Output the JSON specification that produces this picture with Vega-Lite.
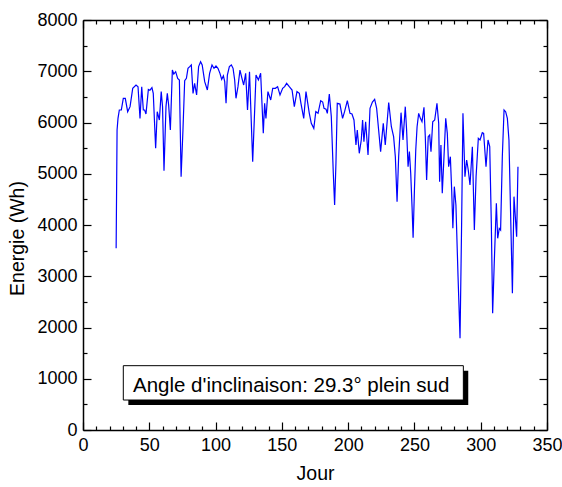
{
  "$schema": "https://vega.github.io/schema/vega-lite/v6.json",
  "width": 464,
  "height": 410,
  "autosize": {"type": "none"},
  "padding": {"left": 83, "top": 20, "right": 15, "bottom": 57},
  "background": "white",
  "config": {
    "view": {"stroke": null},
    "font": "Liberation Sans",
    "axis": {
      "grid": false,
      "domainColor": "black",
      "domainWidth": 1.5,
      "tickColor": "black",
      "tickWidth": 1.2,
      "labelFont": "Liberation Sans",
      "labelFontSize": 18,
      "labelColor": "black",
      "titleFont": "Liberation Sans",
      "titleFontSize": 19.5,
      "titleFontWeight": "normal",
      "titleColor": "black"
    }
  },
  "datasets": {
    "serie": [
    {"jour": 25.0, "energie": 3545}, {"jour": 25.7, "energie": 5854}, {"jour": 26.4, "energie": 6081},
    {"jour": 27.4, "energie": 6244}, {"jour": 28.9, "energie": 6244}, {"jour": 30.4, "energie": 6472},
    {"jour": 31.9, "energie": 6472}, {"jour": 33.7, "energie": 6211}, {"jour": 35.5, "energie": 6309},
    {"jour": 37.5, "energie": 6667}, {"jour": 40.0, "energie": 6732}, {"jour": 41.5, "energie": 6699},
    {"jour": 43.0, "energie": 6081}, {"jour": 44.3, "energie": 6699}, {"jour": 45.5, "energie": 6244},
    {"jour": 46.5, "energie": 6244}, {"jour": 47.5, "energie": 6166}, {"jour": 49.3, "energie": 6647},
    {"jour": 50.5, "energie": 6630}, {"jour": 52.0, "energie": 6680}, {"jour": 53.0, "energie": 6569},
    {"jour": 54.8, "energie": 5496}, {"jour": 56.0, "energie": 6211}, {"jour": 57.6, "energie": 6049},
    {"jour": 59.0, "energie": 6602}, {"jour": 60.0, "energie": 6309}, {"jour": 61.1, "energie": 5060},
    {"jour": 62.6, "energie": 6309}, {"jour": 63.6, "energie": 6569}, {"jour": 64.6, "energie": 6341},
    {"jour": 65.9, "energie": 5854}, {"jour": 67.4, "energie": 7024}, {"jour": 68.5, "energie": 6946},
    {"jour": 69.9, "energie": 6992}, {"jour": 71.4, "energie": 6862}, {"jour": 72.7, "energie": 6830},
    {"jour": 74.0, "energie": 4943}, {"jour": 75.4, "energie": 5854}, {"jour": 76.7, "energie": 6816},
    {"jour": 78.0, "energie": 6862}, {"jour": 79.2, "energie": 7057}, {"jour": 80.5, "energie": 7090},
    {"jour": 81.7, "energie": 7122}, {"jour": 83.0, "energie": 6569}, {"jour": 84.2, "energie": 6764},
    {"jour": 85.7, "energie": 6537}, {"jour": 87.2, "energie": 7090}, {"jour": 88.7, "energie": 7187},
    {"jour": 89.9, "energie": 7122}, {"jour": 91.8, "energie": 6797}, {"jour": 93.8, "energie": 6634},
    {"jour": 95.5, "energie": 6959}, {"jour": 97.3, "energie": 7122}, {"jour": 98.8, "energie": 7057},
    {"jour": 100.3, "energie": 7102}, {"jour": 101.8, "energie": 7057}, {"jour": 103.3, "energie": 6959},
    {"jour": 104.6, "energie": 6843}, {"jour": 105.9, "energie": 6910}, {"jour": 106.9, "energie": 6797},
    {"jour": 107.9, "energie": 6374}, {"jour": 108.9, "energie": 6927}, {"jour": 110.4, "energie": 7090},
    {"jour": 111.9, "energie": 7122}, {"jour": 113.2, "energie": 7057}, {"jour": 114.4, "energie": 6829},
    {"jour": 115.4, "energie": 6472}, {"jour": 116.9, "energie": 6699}, {"jour": 118.4, "energie": 7024},
    {"jour": 119.9, "energie": 6862}, {"jour": 121.2, "energie": 6732}, {"jour": 122.7, "energie": 6960},
    {"jour": 124.1, "energie": 6244}, {"jour": 125.6, "energie": 6992}, {"jour": 128.0, "energie": 5236},
    {"jour": 130.5, "energie": 6927}, {"jour": 132.3, "energie": 6829}, {"jour": 134.0, "energie": 6960},
    {"jour": 136.0, "energie": 5789}, {"jour": 137.0, "energie": 6374}, {"jour": 138.0, "energie": 6081},
    {"jour": 139.5, "energie": 6602}, {"jour": 141.6, "energie": 6439}, {"jour": 143.1, "energie": 6667},
    {"jour": 145.1, "energie": 6667}, {"jour": 146.8, "energie": 6699}, {"jour": 148.6, "energie": 6537},
    {"jour": 150.6, "energie": 6667}, {"jour": 152.1, "energie": 6699}, {"jour": 153.6, "energie": 6764},
    {"jour": 155.6, "energie": 6699}, {"jour": 157.7, "energie": 6634}, {"jour": 159.4, "energie": 6309},
    {"jour": 161.4, "energie": 6602}, {"jour": 163.2, "energie": 6569}, {"jour": 164.4, "energie": 6374},
    {"jour": 166.5, "energie": 6081}, {"jour": 168.2, "energie": 6602}, {"jour": 170.7, "energie": 6179},
    {"jour": 172.2, "energie": 5984}, {"jour": 174.1, "energie": 5886}, {"jour": 175.6, "energie": 6211},
    {"jour": 177.3, "energie": 6179}, {"jour": 179.3, "energie": 6426}, {"jour": 180.8, "energie": 6400},
    {"jour": 181.8, "energie": 6276}, {"jour": 183.3, "energie": 6260}, {"jour": 184.3, "energie": 6179},
    {"jour": 185.8, "energie": 6556}, {"jour": 187.3, "energie": 6114}, {"jour": 188.8, "energie": 5008},
    {"jour": 189.8, "energie": 4390}, {"jour": 190.8, "energie": 5203}, {"jour": 191.8, "energie": 6374},
    {"jour": 193.8, "energie": 6360}, {"jour": 195.8, "energie": 6081}, {"jour": 197.3, "energie": 6211},
    {"jour": 199.4, "energie": 6426}, {"jour": 201.4, "energie": 6179}, {"jour": 202.9, "energie": 6165},
    {"jour": 204.4, "energie": 6049}, {"jour": 205.9, "energie": 5561}, {"jour": 206.9, "energie": 5854},
    {"jour": 208.4, "energie": 5399}, {"jour": 209.9, "energie": 5659}, {"jour": 210.9, "energie": 6049},
    {"jour": 211.9, "energie": 5626}, {"jour": 213.2, "energie": 6016}, {"jour": 215.0, "energie": 5366},
    {"jour": 216.5, "energie": 6276}, {"jour": 218.3, "energie": 6400}, {"jour": 220.0, "energie": 6452},
    {"jour": 221.5, "energie": 6276}, {"jour": 223.0, "energie": 5854}, {"jour": 224.5, "energie": 5431},
    {"jour": 226.5, "energie": 5984}, {"jour": 228.0, "energie": 5561}, {"jour": 230.6, "energie": 6390},
    {"jour": 232.6, "energie": 5918}, {"jour": 234.3, "energie": 5724}, {"jour": 235.6, "energie": 5333},
    {"jour": 236.9, "energie": 4455}, {"jour": 238.1, "energie": 5333}, {"jour": 239.9, "energie": 6192},
    {"jour": 241.4, "energie": 5659}, {"jour": 243.1, "energie": 6309}, {"jour": 244.1, "energie": 5854},
    {"jour": 245.2, "energie": 5138}, {"jour": 246.2, "energie": 5431}, {"jour": 247.2, "energie": 5008},
    {"jour": 248.2, "energie": 4358}, {"jour": 249.0, "energie": 3753}, {"jour": 250.0, "energie": 4683},
    {"jour": 251.0, "energie": 5463}, {"jour": 252.0, "energie": 5918}, {"jour": 253.2, "energie": 6179},
    {"jour": 254.5, "energie": 6081}, {"jour": 255.7, "energie": 6016}, {"jour": 257.2, "energie": 6296},
    {"jour": 258.2, "energie": 5724}, {"jour": 259.2, "energie": 4878}, {"jour": 260.4, "energie": 5724},
    {"jour": 261.5, "energie": 5756}, {"jour": 262.5, "energie": 5431}, {"jour": 263.8, "energie": 6016},
    {"jour": 265.3, "energie": 6049}, {"jour": 267.0, "energie": 6374}, {"jour": 268.3, "energie": 5984},
    {"jour": 269.0, "energie": 4845}, {"jour": 270.0, "energie": 5561}, {"jour": 271.0, "energie": 4618},
    {"jour": 272.3, "energie": 5333}, {"jour": 273.6, "energie": 6081}, {"jour": 274.8, "energie": 5789},
    {"jour": 275.8, "energie": 5138}, {"jour": 277.1, "energie": 5333}, {"jour": 278.1, "energie": 4683},
    {"jour": 279.0, "energie": 3935}, {"jour": 280.1, "energie": 4748}, {"jour": 281.3, "energie": 4390},
    {"jour": 282.9, "energie": 2992}, {"jour": 284.4, "energie": 1789}, {"jour": 285.6, "energie": 4033},
    {"jour": 286.6, "energie": 6179}, {"jour": 288.1, "energie": 4943}, {"jour": 289.4, "energie": 5268},
    {"jour": 290.6, "energie": 5073}, {"jour": 291.9, "energie": 4780}, {"jour": 293.7, "energie": 5528},
    {"jour": 295.2, "energie": 3902}, {"jour": 296.5, "energie": 4943}, {"jour": 298.2, "energie": 5691},
    {"jour": 299.5, "energie": 5659}, {"jour": 301.2, "energie": 5801}, {"jour": 302.2, "energie": 5789},
    {"jour": 304.0, "energie": 5138}, {"jour": 305.5, "energie": 5659}, {"jour": 306.8, "energie": 5528},
    {"jour": 308.0, "energie": 4033}, {"jour": 309.0, "energie": 2277}, {"jour": 310.2, "energie": 3252},
    {"jour": 311.8, "energie": 4423}, {"jour": 312.8, "energie": 3740}, {"jour": 314.0, "energie": 3935},
    {"jour": 315.0, "energie": 3902}, {"jour": 316.3, "energie": 5333}, {"jour": 317.6, "energie": 6244},
    {"jour": 318.8, "energie": 6211}, {"jour": 320.1, "energie": 6081}, {"jour": 321.3, "energie": 5659},
    {"jour": 322.6, "energie": 4163}, {"jour": 323.9, "energie": 2667}, {"jour": 325.1, "energie": 4553},
    {"jour": 326.1, "energie": 4163}, {"jour": 327.1, "energie": 3772}, {"jour": 328.1, "energie": 5138}
    ],
    "note": [{"texte": "Angle d'inclinaison: 29.3° plein sud"}]
  },
  "resolve": {"axis": {"x": "independent", "y": "independent"}},
  "layer": [
    {
      "data": {"name": "serie"},
      "mark": {"type": "line", "color": "#0000FF", "strokeWidth": 1.2},
      "encoding": {
        "x": {"field": "jour", "type": "quantitative",
              "scale": {"domain": [0, 350], "nice": false, "zero": false},
              "axis": {"orient": "bottom", "title": "Jour", "values": [0, 50, 100, 150, 200, 250, 300, 350],
                       "tickSize": -8, "labelPadding": 14, "format": "d", "labelFlush": false, "titlePadding": 10}},
        "y": {"field": "energie", "type": "quantitative",
              "scale": {"domain": [0, 8000], "nice": false, "zero": false},
              "axis": {"orient": "left", "title": "Energie (Wh)", "values": [0, 1000, 2000, 3000, 4000, 5000, 6000, 7000, 8000],
                       "tickSize": -8, "labelPadding": 14, "format": "d", "labelFlush": false, "titlePadding": 9, "titleY": 218}}
      }
    },
    {
      "data": {"name": "serie"},
      "mark": {"type": "line", "strokeOpacity": 0},
      "encoding": {
        "x": {"field": "jour", "type": "quantitative",
              "axis": {"orient": "bottom", "title": null, "labels": false, "domain": false,
                       "values": [10, 20, 30, 40, 60, 70, 80, 90, 110, 120, 130, 140, 160, 170, 180, 190, 210, 220, 230, 240, 260, 270, 280, 290, 310, 320, 330, 340],
                       "tickSize": -4}},
        "y": {"field": "energie", "type": "quantitative",
              "axis": {"orient": "left", "title": null, "labels": false, "domain": false,
                       "values": [500, 1500, 2500, 3500, 4500, 5500, 6500, 7500], "tickSize": -4}}
      }
    },
    {
      "data": {"name": "serie"},
      "mark": {"type": "line", "strokeOpacity": 0},
      "encoding": {
        "x": {"field": "jour", "type": "quantitative",
              "axis": {"orient": "top", "title": null, "labels": false,
                       "values": [0, 50, 100, 150, 200, 250, 300, 350], "tickSize": -8}},
        "y": {"field": "energie", "type": "quantitative",
              "axis": {"orient": "right", "title": null, "labels": false,
                       "values": [0, 1000, 2000, 3000, 4000, 5000, 6000, 7000, 8000], "tickSize": -8}}
      }
    },
    {
      "data": {"name": "serie"},
      "mark": {"type": "line", "strokeOpacity": 0},
      "encoding": {
        "x": {"field": "jour", "type": "quantitative",
              "axis": {"orient": "top", "title": null, "labels": false, "domain": false,
                       "values": [10, 20, 30, 40, 60, 70, 80, 90, 110, 120, 130, 140, 160, 170, 180, 190, 210, 220, 230, 240, 260, 270, 280, 290, 310, 320, 330, 340],
                       "tickSize": -4}},
        "y": {"field": "energie", "type": "quantitative",
              "axis": {"orient": "right", "title": null, "labels": false, "domain": false,
                       "values": [500, 1500, 2500, 3500, 4500, 5500, 6500, 7500], "tickSize": -4}}
      }
    },
    {
      "data": {"name": "note"},
      "mark": {"type": "rect", "fill": "black"},
      "encoding": {
        "x": {"datum": 34.2, "type": "quantitative", "axis": null},
        "x2": {"datum": 290.6},
        "y": {"datum": 1157, "type": "quantitative", "axis": null},
        "y2": {"datum": 488}
      }
    },
    {
      "data": {"name": "note"},
      "mark": {"type": "rect", "fill": "white", "stroke": "black", "strokeWidth": 1},
      "encoding": {
        "x": {"datum": 30.4, "type": "quantitative", "axis": null},
        "x2": {"datum": 286.9},
        "y": {"datum": 1255, "type": "quantitative", "axis": null},
        "y2": {"datum": 585}
      }
    },
    {
      "data": {"name": "note"},
      "mark": {"type": "text", "font": "Liberation Sans",
               "fontSize": 20.5, "align": "left", "baseline": "alphabetic", "color": "black"},
      "encoding": {
        "text": {"field": "texte"},
        "x": {"datum": 37.7, "type": "quantitative", "axis": null},
        "y": {"datum": 747, "type": "quantitative", "axis": null}
      }
    }
  ]
}
